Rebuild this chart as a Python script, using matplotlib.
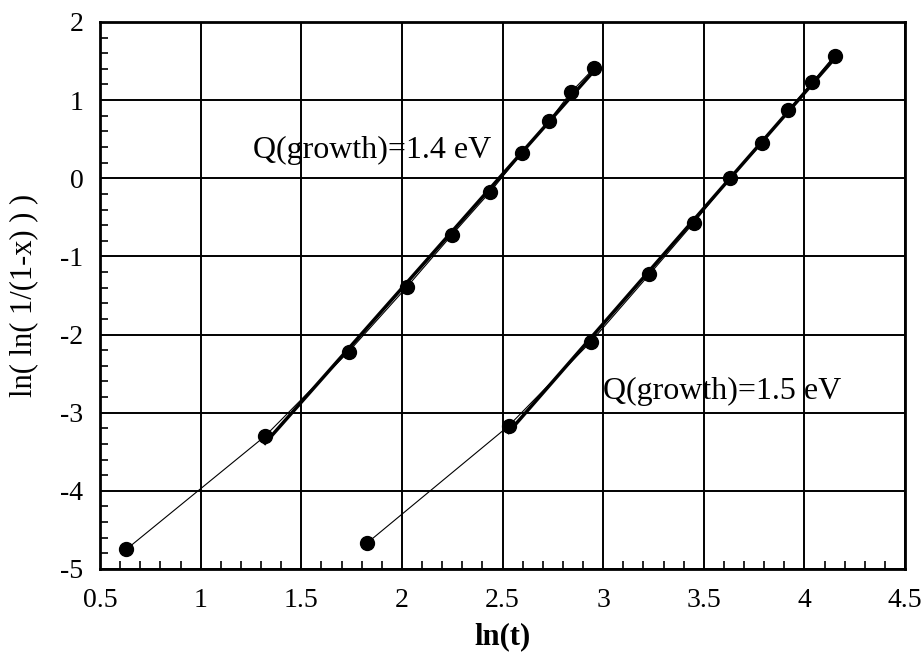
import numpy as np
import matplotlib
matplotlib.use("Agg")
import matplotlib.pyplot as plt
from matplotlib.ticker import MultipleLocator

plt.rcParams['font.family'] = ['Liberation Serif', 'DejaVu Serif']

# Data
x_14 = [0.63, 1.32, 1.735, 2.025, 2.25, 2.44, 2.595, 2.73, 2.84, 2.955]
y_14 = [-4.75, -3.30, -2.22, -1.39, -0.72, -0.17, 0.32, 0.73, 1.10, 1.41]
x_15 = [1.826, 2.53, 2.94, 3.23, 3.45, 3.63, 3.79, 3.92, 4.04, 4.15]
y_15 = [-4.67, -3.17, -2.09, -1.23, -0.57, 0.00, 0.45, 0.87, 1.23, 1.57]
labels = ["Q(growth)=1.4 eV", "Q(growth)=1.5 eV"]
label_pos = [(1.26, 0.35), (3.0, -2.73)]

fig = plt.figure(figsize=(9.22, 6.64), dpi=100)
ax = fig.add_axes([0.1085, 0.1431, 0.8731, 0.8238])

for xs, ys in [(x_14, y_14), (x_15, y_15)]:
    xs = np.array(xs); ys = np.array(ys)
    ax.plot(xs, ys, color='black', lw=0.8, zorder=3)
    p = np.polyfit(xs[1:], ys[1:], 1)
    xf = np.array([xs[1], xs[-1]])
    ax.plot(xf, np.polyval(p, xf), color='black', lw=2.5, zorder=3)
    ax.plot(xs, ys, 'o', color='black', ms=10, zorder=4)

for txt, (tx, ty) in zip(labels, label_pos):
    ax.text(tx, ty, txt, fontsize=23, ha='left', va='center', zorder=5)

ax.set_xlim(0.5, 4.5)
ax.set_ylim(-5, 2)
ax.xaxis.set_major_locator(MultipleLocator(0.5))
ax.xaxis.set_minor_locator(MultipleLocator(0.1))
ax.yaxis.set_major_locator(MultipleLocator(1))
ax.yaxis.set_minor_locator(MultipleLocator(0.2))
ax.xaxis.set_major_formatter(plt.FuncFormatter(lambda v, p: f"{v:g}"))
ax.yaxis.set_major_formatter(plt.FuncFormatter(lambda v, p: f"{v:g}".replace('\u2212', '-')))

ax.grid(True, which='major', color='black', lw=1.4)
ax.tick_params(which='major', direction='in', length=0, labelsize=20, pad=14)
ax.tick_params(axis='y', which='major', pad=12)
ax.tick_params(which='minor', direction='in', length=6, width=1.2, color='black')
for s in ax.spines.values():
    s.set_linewidth(2)
    s.set_color('black')

ax.set_xlabel("ln(t)", fontsize=22, fontweight='bold', labelpad=6)
ax.set_ylabel("ln( ln( 1/(1-x) ) )", fontsize=22, labelpad=16)

fig.savefig("out.png", dpi=100, facecolor='white')
